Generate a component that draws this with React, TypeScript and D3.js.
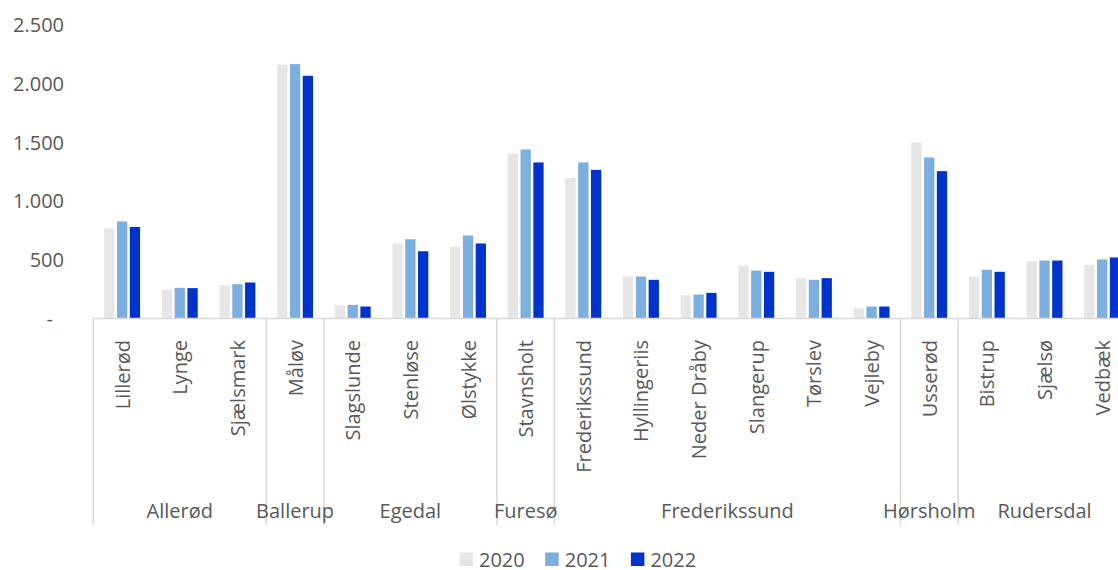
import React from "react";
import * as d3 from "d3";

const towns = [
  "Lillerød", "Lynge", "Sjælsmark", "Måløv", "Slagslunde", "Stenløse", "Ølstykke",
  "Stavnsholt", "Frederikssund", "Hyllingeriis", "Neder Dråby", "Slangerup", "Tørslev",
  "Vejleby", "Usserød", "Bistrup", "Sjælsø", "Vedbæk",
];
const municipalities = [
  { name: "Allerød", count: 3 },
  { name: "Ballerup", count: 1 },
  { name: "Egedal", count: 3 },
  { name: "Furesø", count: 1 },
  { name: "Frederikssund", count: 6 },
  { name: "Hørsholm", count: 1 },
  { name: "Rudersdal", count: 3 },
];
const years = ["2020", "2021", "2022"];
const values2020 = [765, 247, 281, 2160, 111, 638, 610, 1403, 1196, 357, 198, 451, 343, 88, 1497, 357, 487, 457];
const values2021 = [825, 261, 292, 2163, 116, 674, 706, 1437, 1327, 357, 204, 408, 329, 102, 1369, 414, 493, 502];
const values2022 = [778, 258, 306, 2064, 102, 572, 638, 1327, 1264, 329, 218, 397, 343, 102, 1253, 397, 493, 519];
const yTicks = [0, 500, 1000, 1500, 2000, 2500];

const W = 1118;
const H = 570;
const colors = ["#E7E6E6", "#7DAEE0", "#0033CC"];
const textColor = "#595959";
const axisColor = "#D9D9D9";
const FONT = "'Open Sans', 'Noto Sans', sans-serif";

export default function App() {
  const series = [values2020, values2021, values2022];
  const plotLeft = 93.3;
  const step = 57.65;
  const x = d3.scaleBand<string>().domain(towns).range([plotLeft, plotLeft + step * towns.length]).padding(0);
  const groupW = step * 0.666;
  const x1 = d3.scaleBand<string>().domain(years).range([0, groupW]);
  const y = d3.scaleLinear().domain([0, 2500]).range([318.5, 24.5]);
  const loc = d3.formatLocale({ decimal: ",", thousands: ".", grouping: [3], currency: ["", " kr"] });
  const fmt = loc.format(",d");
  const baseY = y(0);
  const sepBottom = 525;

  let acc = 0;
  const groups = municipalities.map((m) => {
    const start = acc;
    acc += m.count;
    const x0 = x(towns[start])!;
    const x1e = x(towns[start + m.count - 1])! + x.bandwidth();
    return { ...m, x0, x1: x1e };
  });

  const gap = 2.5;
  return (
    <svg width={W} height={H} style={{ position: "absolute", left: 0, top: 0, background: "#fff" }} fontFamily={FONT}>
      {yTicks.map((t) => (
        <text
          key={t}
          x={t === 0 ? 53 : 64}
          y={y(t)}
          textAnchor="end"
          dominantBaseline="central"
          fontSize={20}
          fill={textColor}
        >
          {t === 0 ? "-" : fmt(t)}
        </text>
      ))}
      {towns.map((town, i) => (
        <g key={town} transform={`translate(${x(town)! + (step - groupW) / 2},0)`}>
          {years.map((yr, j) => {
            const v = series[j][i];
            return (
              <rect
                key={yr}
                x={x1(yr)! + gap / 2}
                y={y(v)}
                width={x1.bandwidth() - gap}
                height={baseY - y(v)}
                fill={colors[j]}
              />
            );
          })}
        </g>
      ))}
      <line x1={plotLeft} x2={W} y1={baseY} y2={baseY} stroke={axisColor} strokeWidth={1.5} />
      {[groups[0].x0, ...groups.map((g) => g.x1)].map((sx, k) => (
        <line key={k} x1={sx} x2={sx} y1={baseY} y2={sepBottom} stroke={axisColor} strokeWidth={1.5} />
      ))}
      {towns.map((town) => (
        <text
          key={town}
          transform={`translate(${x(town)! + x.bandwidth() / 2},340) rotate(-90)`}
          textAnchor="end"
          dominantBaseline="central"
          fontSize={20}
          fill={textColor}
        >
          {town}
        </text>
      ))}
      {groups.map((g) => (
        <text
          key={g.name}
          x={(g.x0 + g.x1) / 2}
          y={510}
          textAnchor="middle"
          dominantBaseline="central"
          fontSize={20}
          fill={textColor}
        >
          {g.name}
        </text>
      ))}
      {years.map((yr, j) => (
        <g key={yr} transform={`translate(${459.5 + j * 85.7},559)`}>
          <rect x={0} y={-6.5} width={13.5} height={13.5} fill={colors[j]} />
          <text x={19.5} y={0} dominantBaseline="central" fontSize={20} fill={textColor}>
            {yr}
          </text>
        </g>
      ))}
    </svg>
  );
}
